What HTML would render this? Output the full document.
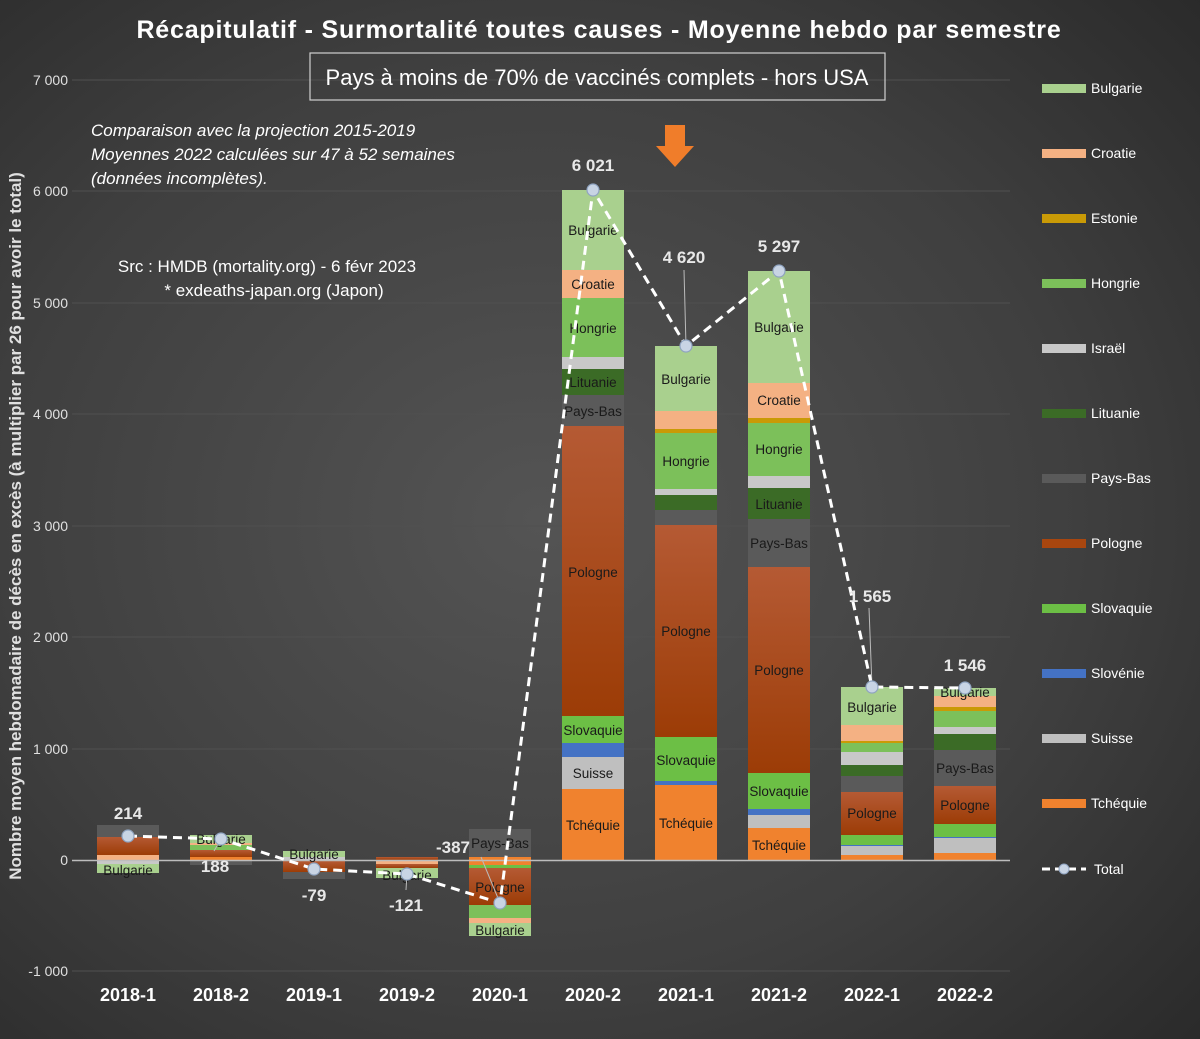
<!DOCTYPE html>
<html><head><meta charset="utf-8"><style>
html,body{margin:0;padding:0;background:#333;}
svg{display:block;font-family:"Liberation Sans",sans-serif;}
</style></head><body>
<svg width="1200" height="1039" viewBox="0 0 1200 1039" xmlns="http://www.w3.org/2000/svg">
<defs>
<radialGradient id="bg" cx="0.45" cy="0.5" r="0.75">
<stop offset="0" stop-color="#545454"/><stop offset="0.6" stop-color="#3f3f3f"/><stop offset="1" stop-color="#2a2a2a"/>
</radialGradient>
<linearGradient id="po" x1="0" y1="0" x2="0" y2="1"><stop offset="0" stop-color="#b55a34"/><stop offset="1" stop-color="#9c3c06"/></linearGradient>
</defs>
<rect width="1200" height="1039" fill="url(#bg)"/>
<g stroke="#505050" stroke-width="1">
<line x1="72" y1="80" x2="1010" y2="80"/><line x1="72" y1="191" x2="1010" y2="191"/>
<line x1="72" y1="303" x2="1010" y2="303"/><line x1="72" y1="414" x2="1010" y2="414"/>
<line x1="72" y1="526" x2="1010" y2="526"/><line x1="72" y1="637" x2="1010" y2="637"/>
<line x1="72" y1="749" x2="1010" y2="749"/><line x1="72" y1="971" x2="1010" y2="971"/>
</g>
<g fill="#e0e0e0" font-size="14" text-anchor="end">
<text x="68" y="85">7 000</text><text x="68" y="196">6 000</text><text x="68" y="308">5 000</text>
<text x="68" y="419">4 000</text><text x="68" y="531">3 000</text><text x="68" y="642">2 000</text>
<text x="68" y="754">1 000</text><text x="68" y="865">0</text><text x="68" y="976">-1 000</text>
</g>
<text transform="translate(21,526) rotate(-90)" fill="#e0e0e0" font-size="17" font-weight="bold" text-anchor="middle">Nombre moyen hebdomadaire de décès en excès (à multiplier par 26 pour avoir le total)</text>
<text x="599" y="38" fill="#ffffff" font-size="25" font-weight="bold" text-anchor="middle" letter-spacing="0.8">Récapitulatif - Surmortalité toutes causes - Moyenne hebdo par semestre</text>
<rect x="310" y="53" width="575" height="47" fill="none" stroke="#d0d0d0" stroke-width="1.2"/>
<text x="597" y="85" fill="#ffffff" font-size="22" text-anchor="middle">Pays à moins de 70% de vaccinés complets - hors USA</text>
<g fill="#ffffff" font-size="17" font-style="italic">
<text x="91" y="136">Comparaison avec la projection 2015-2019</text>
<text x="91" y="160">Moyennes 2022 calculées sur 47 à 52 semaines</text>
<text x="91" y="184">(données incomplètes).</text>
</g>
<g fill="#ffffff" font-size="17" text-anchor="middle">
<text x="267" y="272">Src : HMDB (mortality.org) - 6 févr 2023</text>
<text x="274" y="296">* exdeaths-japan.org (Japon)</text>
</g>
<polygon points="665,125 685,125 685,146 694,146 675,167 656,146 665,146" fill="#f07d2a"/>

<g>
<rect x="562" y="190" width="62" height="80" fill="#a9d08e"/>
<rect x="562" y="270" width="62" height="28" fill="#f4b183"/>
<rect x="562" y="298" width="62" height="59" fill="#7cc05a"/>
<rect x="562" y="357" width="62" height="12" fill="#c8c8c8"/>
<rect x="562" y="369" width="62" height="26" fill="#3b6b26"/>
<rect x="562" y="395" width="62" height="31" fill="#5a5a5a"/>
<rect x="562" y="426" width="62" height="290" fill="url(#po)"/>
<rect x="562" y="716" width="62" height="27" fill="#6cbf45"/>
<rect x="562" y="743" width="62" height="14" fill="#4472c4"/>
<rect x="562" y="757" width="62" height="32" fill="#bfbfbf"/>
<rect x="562" y="789" width="62" height="71" fill="#f0822e"/>
<rect x="655" y="346" width="62" height="65" fill="#a9d08e"/>
<rect x="655" y="411" width="62" height="18" fill="#f4b183"/>
<rect x="655" y="429" width="62" height="4" fill="#c99a06"/>
<rect x="655" y="433" width="62" height="56" fill="#7cc05a"/>
<rect x="655" y="489" width="62" height="6" fill="#c8c8c8"/>
<rect x="655" y="495" width="62" height="15" fill="#3b6b26"/>
<rect x="655" y="510" width="62" height="15" fill="#5a5a5a"/>
<rect x="655" y="525" width="62" height="212" fill="url(#po)"/>
<rect x="655" y="737" width="62" height="44" fill="#6cbf45"/>
<rect x="655" y="781" width="62" height="4" fill="#4472c4"/>
<rect x="655" y="785" width="62" height="75" fill="#f0822e"/>
<rect x="748" y="271" width="62" height="112" fill="#a9d08e"/>
<rect x="748" y="383" width="62" height="35" fill="#f4b183"/>
<rect x="748" y="418" width="62" height="5" fill="#c99a06"/>
<rect x="748" y="423" width="62" height="53" fill="#7cc05a"/>
<rect x="748" y="476" width="62" height="12" fill="#c8c8c8"/>
<rect x="748" y="488" width="62" height="31" fill="#3b6b26"/>
<rect x="748" y="519" width="62" height="48" fill="#5a5a5a"/>
<rect x="748" y="567" width="62" height="206" fill="url(#po)"/>
<rect x="748" y="773" width="62" height="36" fill="#6cbf45"/>
<rect x="748" y="809" width="62" height="6" fill="#4472c4"/>
<rect x="748" y="815" width="62" height="13" fill="#bfbfbf"/>
<rect x="748" y="828" width="62" height="32" fill="#f0822e"/>
<rect x="841" y="687" width="62" height="38" fill="#a9d08e"/>
<rect x="841" y="725" width="62" height="16" fill="#f4b183"/>
<rect x="841" y="741" width="62" height="2" fill="#c99a06"/>
<rect x="841" y="743" width="62" height="9" fill="#7cc05a"/>
<rect x="841" y="752" width="62" height="13" fill="#c8c8c8"/>
<rect x="841" y="765" width="62" height="11" fill="#3b6b26"/>
<rect x="841" y="776" width="62" height="16" fill="#5a5a5a"/>
<rect x="841" y="792" width="62" height="43" fill="url(#po)"/>
<rect x="841" y="835" width="62" height="10" fill="#6cbf45"/>
<rect x="841" y="845" width="62" height="1" fill="#4472c4"/>
<rect x="841" y="846" width="62" height="9" fill="#bfbfbf"/>
<rect x="841" y="855" width="62" height="5" fill="#f0822e"/>
<rect x="934" y="688" width="62" height="8" fill="#a9d08e"/>
<rect x="934" y="696" width="62" height="11" fill="#f4b183"/>
<rect x="934" y="707" width="62" height="4" fill="#c99a06"/>
<rect x="934" y="711" width="62" height="16" fill="#7cc05a"/>
<rect x="934" y="727" width="62" height="7" fill="#c8c8c8"/>
<rect x="934" y="734" width="62" height="16" fill="#3b6b26"/>
<rect x="934" y="750" width="62" height="36" fill="#5a5a5a"/>
<rect x="934" y="786" width="62" height="38" fill="url(#po)"/>
<rect x="934" y="824" width="62" height="13" fill="#6cbf45"/>
<rect x="934" y="837" width="62" height="1" fill="#4472c4"/>
<rect x="934" y="838" width="62" height="15" fill="#bfbfbf"/>
<rect x="934" y="853" width="62" height="7" fill="#f0822e"/>
<rect x="97" y="825" width="62" height="12" fill="#5a5a5a"/>
<rect x="97" y="837" width="62" height="18" fill="url(#po)"/>
<rect x="97" y="855" width="62" height="5" fill="#f4b183"/>
<rect x="97" y="860" width="62" height="4" fill="#c8c8c8"/>
<rect x="97" y="864" width="62" height="9" fill="#a9d08e"/>
<rect x="190" y="835" width="62" height="8" fill="#a9d08e"/>
<rect x="190" y="843" width="62" height="2" fill="#f4b183"/>
<rect x="190" y="845" width="62" height="5" fill="#7cc05a"/>
<rect x="190" y="850" width="62" height="7" fill="url(#po)"/>
<rect x="190" y="857" width="62" height="3" fill="#f0822e"/>
<rect x="190" y="860" width="62" height="5" fill="#5a5a5a"/>
<rect x="283" y="851" width="62" height="6" fill="#a9d08e"/>
<rect x="283" y="857" width="62" height="3" fill="#c8c8c8"/>
<rect x="283" y="861" width="62" height="11" fill="url(#po)"/>
<rect x="283" y="872" width="62" height="7" fill="#5a5a5a"/>
<rect x="376" y="857" width="62" height="3" fill="url(#po)"/>
<rect x="376" y="860" width="62" height="4" fill="#f4b183"/>
<rect x="376" y="864" width="62" height="4" fill="url(#po)"/>
<rect x="376" y="868" width="62" height="10" fill="#a9d08e"/>
<rect x="469" y="829" width="62" height="28" fill="#5a5a5a"/>
<rect x="469" y="857" width="62" height="8" fill="#f0822e"/>
<rect x="469" y="865" width="62" height="3" fill="#6cbf45"/>
<rect x="469" y="868" width="62" height="37" fill="url(#po)"/>
<rect x="469" y="905" width="62" height="13" fill="#7cc05a"/>
<rect x="469" y="918" width="62" height="5" fill="#f4b183"/>
<rect x="469" y="923" width="62" height="13" fill="#a9d08e"/>
</g>
<line x1="72" y1="860.5" x2="1010" y2="860.5" stroke="#bdbdbd" stroke-width="1.5"/>

<g fill="#1a1a1a" font-size="13.5" text-anchor="middle">
<text x="593" y="235">Bulgarie</text><text x="593" y="289">Croatie</text><text x="593" y="333">Hongrie</text>
<text x="593" y="387">Lituanie</text><text x="593" y="416">Pays-Bas</text><text x="593" y="577">Pologne</text>
<text x="593" y="735">Slovaquie</text><text x="593" y="778">Suisse</text><text x="593" y="830">Tchéquie</text>
<text x="686" y="384">Bulgarie</text><text x="686" y="466">Hongrie</text><text x="686" y="636">Pologne</text>
<text x="686" y="765">Slovaquie</text><text x="686" y="828">Tchéquie</text>
<text x="779" y="332">Bulgarie</text><text x="779" y="405">Croatie</text><text x="779" y="454">Hongrie</text>
<text x="779" y="509">Lituanie</text><text x="779" y="548">Pays-Bas</text><text x="779" y="675">Pologne</text>
<text x="779" y="796">Slovaquie</text><text x="779" y="850">Tchéquie</text>
<text x="872" y="712">Bulgarie</text><text x="872" y="818">Pologne</text>
<text x="965" y="697">Bulgarie</text><text x="965" y="773">Pays-Bas</text><text x="965" y="810">Pologne</text>
<text x="128" y="875">Bulgarie</text><text x="221" y="844">Bulgarie</text><text x="314" y="859">Bulgarie</text>
<text x="407" y="880">Bulgarie</text><text x="500" y="848">Pays-Bas</text><text x="500" y="892">Pologne</text>
<text x="500" y="935">Bulgarie</text>
</g>

<g stroke="#bbbbbb" stroke-width="1">
<line x1="684" y1="270" x2="686" y2="346"/><line x1="869" y1="608" x2="872" y2="687"/>
<line x1="407" y1="874" x2="406" y2="890"/><line x1="481" y1="857" x2="500" y2="903"/>
<line x1="221" y1="839" x2="214" y2="851"/>
</g>

<polyline points="128,836 221,839 314,869 407,874 500,903 593,190 686,346 779,271 872,687 965,688" fill="none" stroke="#ffffff" stroke-width="3" stroke-dasharray="9,6"/>
<g fill="#c8d4e4" stroke="#8fa3c0" stroke-width="1.2">
<circle cx="128" cy="836" r="6"/><circle cx="221" cy="839" r="6"/><circle cx="314" cy="869" r="6"/>
<circle cx="407" cy="874" r="6"/><circle cx="500" cy="903" r="6"/><circle cx="593" cy="190" r="6"/>
<circle cx="686" cy="346" r="6"/><circle cx="779" cy="271" r="6"/><circle cx="872" cy="687" r="6"/>
<circle cx="965" cy="688" r="6"/>
</g>
<g fill="#e8e8e8" font-size="17" font-weight="bold" text-anchor="middle">
<text x="128" y="819">214</text><text x="215" y="872">188</text><text x="314" y="901">-79</text>
<text x="406" y="911">-121</text><text x="453" y="853">-387</text><text x="593" y="171">6 021</text>
<text x="684" y="263">4 620</text><text x="779" y="252">5 297</text><text x="870" y="602">1 565</text>
<text x="965" y="671">1 546</text>
</g>
<g fill="#ffffff" font-size="18" font-weight="bold" text-anchor="middle">
<text x="128" y="1001">2018-1</text><text x="221" y="1001">2018-2</text><text x="314" y="1001">2019-1</text>
<text x="407" y="1001">2019-2</text><text x="500" y="1001">2020-1</text><text x="593" y="1001">2020-2</text>
<text x="686" y="1001">2021-1</text><text x="779" y="1001">2021-2</text><text x="872" y="1001">2022-1</text>
<text x="965" y="1001">2022-2</text>
</g>

<g>
<rect x="1042" y="84" width="44" height="9" fill="#a9d08e"/>
<rect x="1042" y="149" width="44" height="9" fill="#f4b183"/>
<rect x="1042" y="214" width="44" height="9" fill="#c99a06"/>
<rect x="1042" y="279" width="44" height="9" fill="#7cc05a"/>
<rect x="1042" y="344" width="44" height="9" fill="#c8c8c8"/>
<rect x="1042" y="409" width="44" height="9" fill="#3b6b26"/>
<rect x="1042" y="474" width="44" height="9" fill="#5a5a5a"/>
<rect x="1042" y="539" width="44" height="9" fill="#a8460f"/>
<rect x="1042" y="604" width="44" height="9" fill="#6cbf45"/>
<rect x="1042" y="669" width="44" height="9" fill="#4472c4"/>
<rect x="1042" y="734" width="44" height="9" fill="#bfbfbf"/>
<rect x="1042" y="799" width="44" height="9" fill="#f0822e"/>
<line x1="1042" y1="869" x2="1086" y2="869" stroke="#fff" stroke-width="3" stroke-dasharray="8,5"/>
<circle cx="1064" cy="869" r="5" fill="#c8d4e4" stroke="#8fa3c0"/>
</g>
<g fill="#ffffff" font-size="14">
<text x="1091" y="93">Bulgarie</text><text x="1091" y="158">Croatie</text><text x="1091" y="223">Estonie</text>
<text x="1091" y="288">Hongrie</text><text x="1091" y="353">Israël</text><text x="1091" y="418">Lituanie</text>
<text x="1091" y="483">Pays-Bas</text><text x="1091" y="548">Pologne</text><text x="1091" y="613">Slovaquie</text>
<text x="1091" y="678">Slovénie</text><text x="1091" y="743">Suisse</text><text x="1091" y="808">Tchéquie</text>
<text x="1094" y="874">Total</text>
</g>
</svg>
</body></html>
